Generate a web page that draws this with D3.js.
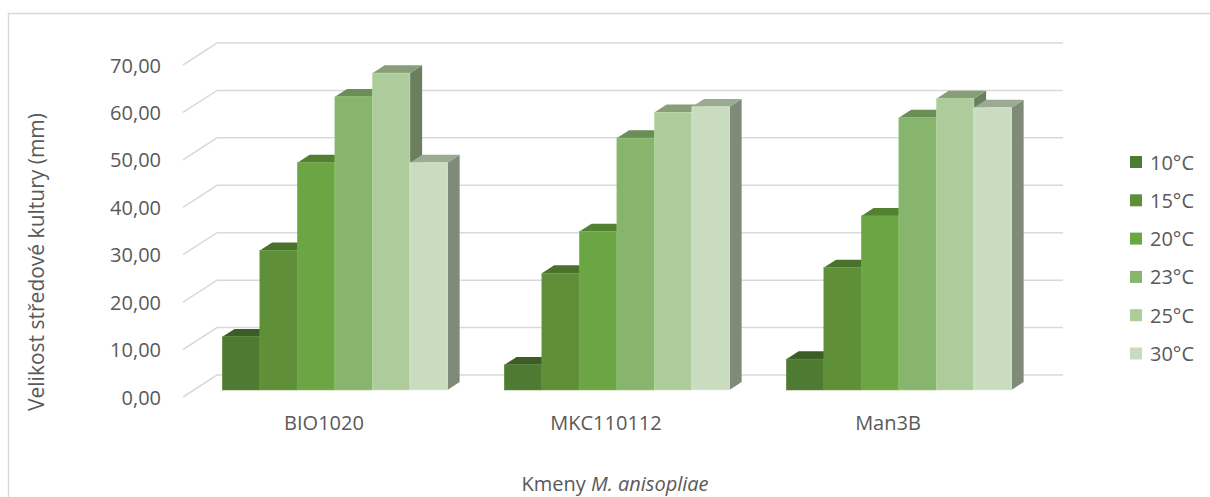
<!DOCTYPE html>
<html>
<head>
<meta charset="utf-8">
<script src="https://cdn.jsdelivr.net/npm/d3@7"></script>
<style>
  html, body { margin: 0; padding: 0; background: #fff; }
  svg { display: block; }
  text { font-family: "Open Sans", "Noto Sans", sans-serif; fill: #595959; }
</style>
</head>
<body>
<svg id="chart" width="1210" height="497"></svg>
<script>
// Strains on the category axis
const categories = ["BIO1020", "MKC110112", "Man3B"];
// Temperatures (one series each)
const seriesNames = ["10°C", "15°C", "20°C", "23°C", "25°C", "30°C"];
// Mean central colony size (mm) per strain, one array per temperature
const t10 = [11.2, 5.3, 6.5];
const t15 = [29.4, 24.6, 25.8];
const t20 = [47.9, 33.4, 36.7];
const t23 = [61.8, 53.1, 57.4];
const t25 = [66.8, 58.5, 61.4];
const t30 = [47.9, 59.7, 59.5];
const seriesValues = [t10, t15, t20, t23, t25, t30];
// Value axis ticks
const yTicks = [0, 10, 20, 30, 40, 50, 60, 70];

// Face colours: front, top, side
const frontColors = ["#4e7a32", "#5f9039", "#6ca544", "#87b56e", "#adcb9b", "#c9dcc0"];
const topColors   = ["#3c5e26", "#4a722c", "#538134", "#6a8e56", "#879e79", "#9bab93"];
const sideColors  = ["#34521f", "#426427", "#4b732e", "#5e7d4c", "#6b7f5f", "#7f8a78"];

const svg = d3.select("#chart");

// Chart area border
svg.append("rect")
  .attr("x", 8.5).attr("y", 13.5)
  .attr("width", 1300).attr("height", 600)
  .attr("fill", "none").attr("stroke", "#d9d9d9").attr("stroke-width", 1.5);

// Oblique projection: depth runs from the front floor edge (t=0) to the back wall (t=1)
const depthDX = 34, depthDY = -22;
const barFront = 0.32, barBack = 0.68;

// Value scale on the back wall
const y = d3.scaleLinear().domain([0, 70]).range([375, 43]);
// Category bands along the front floor edge
const x0 = d3.scaleBand().domain(categories).range([183, 1029]).paddingInner(0).paddingOuter(0);
const groupWidth = x0.bandwidth() * 0.798;
const x1 = d3.scaleBand().domain(seriesNames)
  .range([(x0.bandwidth() - groupWidth) / 2, (x0.bandwidth() + groupWidth) / 2]);

// project (front-edge x, value, depth t) to screen
function px(xf, t) { return xf + t * depthDX; }
function py(v, t) { return y(v) + (1 - t) * (-depthDY); }

// Gridlines: side wall (slanted) + back wall (horizontal)
const grid = svg.append("g");
yTicks.forEach(v => {
  grid.append("path")
    .attr("d", `M${px(183, 0)},${py(v, 0)} L${px(183, 1)},${py(v, 1)} L${1063},${py(v, 1)}`)
    .attr("fill", "none").attr("stroke", "#d9d9d9").attr("stroke-width", 1.5);
});

// Value tick labels
const fmt = v => d3.format(".2f")(v).replace(".", ",");
svg.append("g").selectAll("text").data(yTicks).join("text")
  .attr("x", 161).attr("y", v => py(v, 0))
  .attr("text-anchor", "end").attr("dominant-baseline", "central")
  .attr("font-size", 20)
  .text(fmt);

// Bars: drawn left to right so each bar hides the side face of the previous one
const bars = svg.append("g");
categories.forEach((cat, ci) => {
  seriesNames.forEach((s, si) => {
    const v = seriesValues[si][ci];
    const xl = x0(cat) + x1(s);
    const xr = xl + x1.bandwidth();
    const g = bars.append("g");
    // right side face
    g.append("path")
      .attr("d", `M${px(xr, barFront)},${py(0, barFront)} L${px(xr, barBack)},${py(0, barBack)} L${px(xr, barBack)},${py(v, barBack)} L${px(xr, barFront)},${py(v, barFront)} Z`)
      .attr("fill", sideColors[si]);
    // top face
    g.append("path")
      .attr("d", `M${px(xl, barFront)},${py(v, barFront)} L${px(xr, barFront)},${py(v, barFront)} L${px(xr, barBack)},${py(v, barBack)} L${px(xl, barBack)},${py(v, barBack)} Z`)
      .attr("fill", topColors[si]);
    // front face
    g.append("rect")
      .attr("x", px(xl, barFront)).attr("y", py(v, barFront))
      .attr("width", xr - xl).attr("height", py(0, barFront) - py(v, barFront))
      .attr("fill", frontColors[si])
      .attr("stroke", d3.color(frontColors[si]).brighter(0.25)).attr("stroke-width", 0.6);
  });
});

// Category labels
svg.append("g").selectAll("text").data(categories).join("text")
  .attr("x", d => x0(d) + x0.bandwidth() / 2)
  .attr("y", 430)
  .attr("text-anchor", "middle")
  .attr("font-size", 20)
  .text(d => d);

// Axis titles
svg.append("text")
  .attr("transform", "translate(36,262) rotate(-90)")
  .attr("text-anchor", "middle").attr("dominant-baseline", "central")
  .attr("font-size", 21)
  .text("Velikost středové kultury (mm)");

const xTitle = svg.append("text")
  .attr("x", 615).attr("y", 491)
  .attr("text-anchor", "middle")
  .attr("font-size", 20);
xTitle.append("tspan").text("Kmeny ");
xTitle.append("tspan").attr("font-style", "italic").text("M. anisopliae");

// Legend
const legend = svg.append("g").selectAll("g").data(seriesNames).join("g")
  .attr("transform", (d, i) => `translate(1130,${162 + i * 38.3})`);
legend.append("rect")
  .attr("x", 0).attr("y", -6).attr("width", 12).attr("height", 12)
  .attr("fill", (d, i) => frontColors[i]);
legend.append("text")
  .attr("x", 20).attr("y", 0)
  .attr("dominant-baseline", "central")
  .attr("font-size", 20)
  .text(d => d);
</script>
</body>
</html>
